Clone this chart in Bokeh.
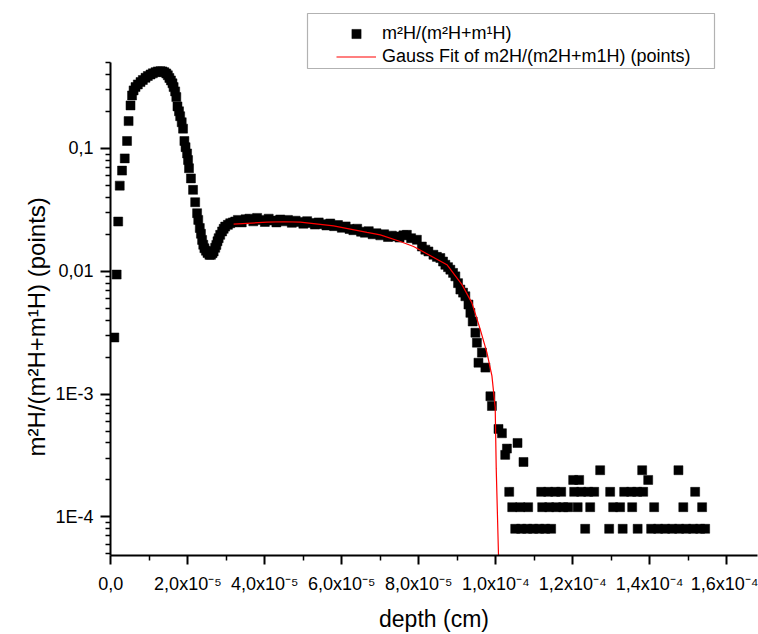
from bokeh.plotting import figure
from bokeh.models import (Range1d, FixedTicker, CustomJSTickFormatter, Legend,
                          LegendItem, BoxAnnotation, Title)
from bokeh.embed import file_html
from bokeh.resources import INLINE

# ---- data (depth in units of 1e-5 cm, ratio m2H/(m2H+m1H)) ----
rise_depth = [0.09, 0.15, 0.19, 0.23, 0.29, 0.36, 0.42, 0.46, 0.51, 0.55, 0.59, 0.64,
              0.70, 0.77, 0.83, 0.90, 0.96, 1.03, 1.09, 1.16, 1.22, 1.29, 1.34, 1.39,
              1.44, 1.48, 1.52, 1.56, 1.60, 1.63, 1.67, 1.70, 1.73, 1.77, 1.80, 1.84,
              1.875, 1.91, 1.94, 1.98, 2.005, 2.03, 2.08, 2.135, 2.19, 2.24, 2.27, 2.31,
              2.34, 2.37, 2.40, 2.43, 2.47, 2.51, 2.56, 2.60, 2.64, 2.67, 2.71, 2.74,
              2.77, 2.80, 2.84, 2.89, 2.93, 2.97, 3.04, 3.10, 3.17, 3.23]
rise_ratio = [0.00289, 0.0094, 0.0254, 0.0498, 0.066, 0.083, 0.115, 0.167, 0.224, 0.27,
              0.297, 0.316, 0.332, 0.347, 0.361, 0.376, 0.389, 0.400, 0.409, 0.418, 0.424,
              0.426, 0.424, 0.418, 0.408, 0.394, 0.375, 0.358, 0.339, 0.316, 0.2915, 0.262,
              0.220, 0.2007, 0.183, 0.1634, 0.145, 0.115, 0.1024, 0.091, 0.0804, 0.069,
              0.057, 0.046, 0.0365, 0.0297, 0.0262, 0.0225, 0.0202, 0.0180, 0.01644, 0.0154,
              0.0147, 0.0141, 0.0136, 0.0136, 0.01403, 0.0145, 0.01553, 0.0164, 0.01754,
              0.0186, 0.0198, 0.0211, 0.02216, 0.0231, 0.02388, 0.0246, 0.0250, 0.0254]

plateau_depth = [3.3, 3.4, 3.5, 3.6, 3.7, 3.8, 3.9, 4.0, 4.1, 4.2, 4.3, 4.4, 4.5, 4.6,
                 4.7, 4.8, 4.9, 5.0, 5.1, 5.2, 5.3, 5.4, 5.5, 5.6, 5.7, 5.8, 5.9, 6.0,
                 6.1, 6.2, 6.3, 6.4, 6.5, 6.6, 6.7, 6.8, 6.9, 7.0]
plateau_ratio = [0.0262, 0.0250, 0.0265, 0.0268, 0.0255, 0.0272, 0.0262, 0.0252, 0.0268,
                 0.0259, 0.0250, 0.0264, 0.0255, 0.0262, 0.0248, 0.0258, 0.0252, 0.0244,
                 0.0256, 0.0247, 0.0240, 0.0250, 0.0242, 0.0236, 0.0245, 0.0233, 0.0238,
                 0.0226, 0.0232, 0.0221, 0.0216, 0.0222, 0.0210, 0.0206, 0.0212, 0.0200,
                 0.0204, 0.0196]

drop_depth = [7.1, 7.2, 7.3, 7.39, 7.5, 7.6, 7.69, 7.8, 7.95, 8.08, 8.17, 8.25, 8.38,
              8.47, 8.56, 8.63, 8.69, 8.76, 8.82, 8.89, 8.95, 9.02, 9.08, 9.15, 9.21,
              9.29, 9.34, 9.40, 9.47, 9.51, 9.55, 9.64, 9.73, 9.86, 9.90]
drop_ratio = [0.0200, 0.0190, 0.0195, 0.0192, 0.0188, 0.0196, 0.0198, 0.0186, 0.01805,
              0.0159, 0.0150, 0.0145, 0.01363, 0.0131, 0.01282, 0.0120, 0.0113, 0.0108,
              0.0103, 0.0097, 0.00909, 0.0080, 0.0071, 0.0067, 0.00626, 0.00536, 0.00459,
              0.0039, 0.00316, 0.00262, 0.0018, 0.002175, 0.001644, 0.00096, 0.00080]

tail_depth = [10.071, 10.16, 10.29, 10.245, 10.565, 10.72,
              10.349, 11.180, 11.362, 11.544, 11.700, 12.037, 12.219, 12.401, 12.557,
              12.972, 13.336, 13.518, 13.674, 13.830, 15.180,
              10.427, 10.635, 10.842, 11.206, 11.388, 11.570, 11.752, 11.881, 12.128,
              12.453, 13.050, 13.230, 13.544, 14.115, 14.872, 15.361,
              10.505, 10.660, 10.816, 10.971, 11.127, 11.283, 11.439, 12.323, 12.946,
              13.297, 13.686, 14.037, 14.219, 14.401, 14.583, 14.764, 14.946, 15.128,
              15.310, 15.440,
              12.011, 12.167, 13.960,
              12.712, 13.804, 14.746]
tail_ratio = [5.2e-4, 4.8e-4, 3.6e-4, 3.2e-4, 4.0e-4, 2.8e-4,
              1.6e-4, 1.6e-4, 1.6e-4, 1.6e-4, 1.6e-4, 1.6e-4, 1.6e-4, 1.6e-4, 1.6e-4,
              1.6e-4, 1.6e-4, 1.6e-4, 1.6e-4, 1.6e-4, 1.6e-4,
              1.2e-4, 1.2e-4, 1.2e-4, 1.2e-4, 1.2e-4, 1.2e-4, 1.2e-4, 1.2e-4, 1.2e-4,
              1.2e-4, 1.2e-4, 1.2e-4, 1.2e-4, 1.2e-4, 1.2e-4, 1.2e-4,
              8e-5, 8e-5, 8e-5, 8e-5, 8e-5, 8e-5, 8e-5, 8e-5, 8e-5,
              8e-5, 8e-5, 8e-5, 8e-5, 8e-5, 8e-5, 8e-5, 8e-5, 8e-5,
              8e-5, 8e-5,
              2.0e-4, 2.0e-4, 2.0e-4,
              2.4e-4, 2.4e-4, 2.4e-4]

# Gauss fit curve
fit_depth = [3.189, 4.057, 4.5, 4.921, 5.786, 6.654, 7.0, 7.518, 7.864, 8.731, 9.121,
             9.38, 9.596, 9.77, 9.90, 9.985, 10.012, 10.071, 10.09]
fit_ratio = [0.0242, 0.0251, 0.0253, 0.0251, 0.0234, 0.0207, 0.0198, 0.01748, 0.0159,
             0.01131, 0.00778, 0.00553, 0.00336, 0.002175, 0.001406, 7.78e-4, 2.46e-4,
             4.88e-5, 1.0e-5]

x_tick_vals = [0, 2e-5, 4e-5, 6e-5, 8e-5, 1.0e-4, 1.2e-4, 1.4e-4, 1.6e-4]
x_tick_labels = ["0,0", "2,0x10⁻⁵", "4,0x10⁻⁵", "6,0x10⁻⁵", "8,0x10⁻⁵",
                 "1,0x10⁻⁴", "1,2x10⁻⁴", "1,4x10⁻⁴", "1,6x10⁻⁴"]
y_tick_vals = [1e-4, 1e-3, 1e-2, 1e-1]
y_tick_labels = ["1E-4", "1E-3", "0,01", "0,1"]

series_label = "m²H/(m²H+m¹H)"
fit_label = "Gauss Fit of m2H/(m2H+m1H) (points)"
x_title = "depth (cm)"
y_title = "m²H/(m²H+m¹H) (points)"

# ---- build ----
scale = 1e-5
depth = [d * scale for d in rise_depth + plateau_depth + drop_depth + tail_depth]
ratio = rise_ratio + plateau_ratio + drop_ratio + tail_ratio
fit_x = [d * scale for d in fit_depth]

FONT = "Liberation Sans"
y_lo, y_axis_top = 4.85e-5, 0.503

p = figure(width=758, height=634, y_axis_type="log",
           x_range=Range1d(-1e-7, 1.68e-4), y_range=Range1d(y_lo, 1.328),
           output_backend="svg", toolbar_location=None,
           min_border_left=110, min_border_right=1, min_border_top=10,
           min_border_bottom=77)
p.outline_line_color = None
p.xgrid.visible = False
p.ygrid.visible = False
p.background_fill_color = "white"
p.border_fill_color = "white"

sc = p.scatter(depth, ratio, marker="square", size=9, fill_color="black",
               line_color="black", line_width=0.5)
ln = p.line(fit_x, fit_ratio, line_color="red", line_width=1.2)

x_minor = [(2 * k + 1) * 1e-5 for k in range(8)]
y_minor = [m * 10.0 ** e for e in range(-5, 0) for m in range(2, 10)]
y_minor = [v for v in y_minor if y_lo <= v <= y_axis_top]

xa = p.xaxis[0]
xa.ticker = FixedTicker(ticks=x_tick_vals, minor_ticks=x_minor)
xa.formatter = CustomJSTickFormatter(args=dict(vals=x_tick_vals, labels=x_tick_labels), code="""
for (let i = 0; i < vals.length; i++) { if (Math.abs(tick - vals[i]) < 1e-9) return labels[i]; }
return "";
""")
ya = p.yaxis[0]
ya.ticker = FixedTicker(ticks=y_tick_vals, minor_ticks=y_minor)
ya.formatter = CustomJSTickFormatter(args=dict(vals=y_tick_vals, labels=y_tick_labels), code="""
for (let i = 0; i < vals.length; i++) { if (Math.abs(Math.log10(tick) - Math.log10(vals[i])) < 1e-6) return labels[i]; }
return "";
""")
ya.bounds = (y_lo, y_axis_top)

for ax in (xa, ya):
    ax.axis_line_width = 2
    ax.axis_line_color = "black"
    ax.major_tick_line_width = 2
    ax.minor_tick_line_width = 1.5
    ax.major_tick_in = 0
    ax.minor_tick_in = 0
    ax.major_label_text_font = FONT
    ax.major_label_text_font_size = "18px"
    ax.major_label_text_color = "black"
    ax.axis_label_text_font = FONT
    ax.axis_label_text_font_size = "23px"
    ax.axis_label_text_font_style = "normal"
    ax.axis_label_text_color = "black"

xa.axis_label = x_title
xa.major_tick_out = 9
xa.minor_tick_out = 5
xa.major_label_standoff = 9
xa.axis_label_standoff = 9

ya.major_tick_out = 10
ya.minor_tick_out = 5
ya.major_label_standoff = 7

# y-axis title placed as a left-side title so it can sit centred on the visible axis
ytitle = Title(text=y_title, align="left", offset=99, standoff=6,
               text_font=FONT, text_font_size="24px", text_font_style="normal",
               text_color="black")
p.add_layout(ytitle, "left")

legend = Legend(items=[LegendItem(label=series_label, renderers=[sc]),
                       LegendItem(label=fit_label, renderers=[ln])],
                location=(226, 487), padding=6, spacing=0, margin=0,
                glyph_width=40, glyph_height=23, label_height=23, label_standoff=6,
                label_width=320, label_text_font=FONT, label_text_font_size="18px",
                label_text_color="black", border_line_color=None,
                background_fill_alpha=0)
p.add_layout(legend)

frame_box = BoxAnnotation(left=307, right=714, top=13, bottom=68,
                          left_units="canvas", right_units="canvas",
                          top_units="canvas", bottom_units="canvas",
                          fill_alpha=0, line_color="black", line_width=1.2)
p.add_layout(frame_box)

open("out.html", "w").write(file_html(p, INLINE))
